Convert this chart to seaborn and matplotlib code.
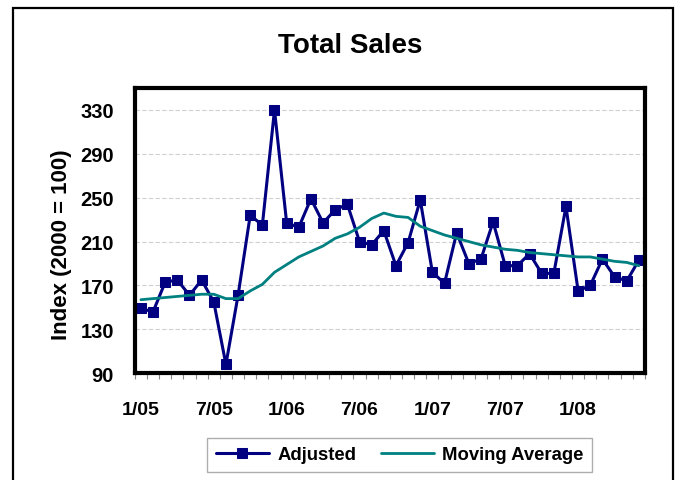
import numpy as np
import pandas as pd
import seaborn as sns
import matplotlib.pyplot as plt
from matplotlib.patches import Rectangle
from matplotlib.ticker import FixedLocator

# %% data (monthly, 1/05 - 6/08)
month_idx = list(range(42))
adjusted = [149, 146, 173, 175, 161, 175, 155, 98, 161, 234,
            225, 330, 227, 223, 249, 227, 239, 244, 210, 207,
            220, 188, 209, 248, 182, 172, 218, 190, 194, 228,
            188, 188, 199, 181, 181, 242, 165, 170, 194, 178,
            174, 193]
moving_avg = [157, 158, 159, 160, 161, 162, 162, 158, 158, 165,
              171, 182, 189, 196, 201, 206, 213, 217, 223, 231,
              236, 233, 232, 224, 220, 216, 213, 210, 207, 205,
              203, 202, 200, 199, 198, 197, 196, 196, 194, 192,
              191, 188]
tick_pos = [0, 6, 12, 18, 24, 30, 36]
tick_labels = ["1/05", "7/05", "1/06", "7/06", "1/07", "7/07", "1/08"]
y_ticks = [90, 130, 170, 210, 250, 290, 330]

df = pd.DataFrame({"month": month_idx, "Adjusted": adjusted,
                   "Moving Average": moving_avg})

# %% style
sns.set_style("white")
plt.rcParams["font.family"] = ["Liberation Sans", "DejaVu Sans"]
plt.rcParams["font.weight"] = "bold"
plt.rcParams["text.color"] = "black"
plt.rcParams["xtick.color"] = "black"
plt.rcParams["ytick.color"] = "black"
plt.rcParams["axes.labelcolor"] = "black"

fig = plt.figure(figsize=(6.81, 4.81), dpi=100)
ax = fig.add_axes([0.198, 0.222, 0.749, 0.593])

sns.lineplot(data=df, x="month", y="Adjusted", color="#000080", lw=2.2,
             marker="s", markersize=7, markeredgecolor="#000080",
             label="Adjusted", ax=ax)
sns.lineplot(data=df, x="month", y="Moving Average", color="#008080",
             lw=2, label="Moving Average", ax=ax)

ax.set_xlim(-0.5, 41.5)
ax.set_ylim(90, 350)
ax.set_yticks(y_ticks)
ax.set_yticklabels([str(v) for v in y_ticks], fontsize=14.5, fontweight="bold")
ax.set_xticks(tick_pos)
ax.set_xticklabels(tick_labels, fontsize=14, fontweight="bold")
ax.xaxis.set_minor_locator(FixedLocator(np.arange(-0.5, 42, 1)))
ax.tick_params(axis="x", which="major", length=0, pad=20)
ax.tick_params(axis="x", which="minor", length=4, width=0.8, color="#888888",
               direction="out", bottom=True)
ax.tick_params(axis="y", length=0, pad=15)
ax.set_xlabel("")
ax.set_ylabel("Index (2000 = 100)", fontsize=16, fontweight="bold")
ax.yaxis.set_label_coords(-0.124, 0.455)
ax.yaxis.grid(True, linestyle=(0, (4, 2)), color="#d0d0d0", lw=0.8)
ax.set_axisbelow(True)
for s in ax.spines.values():
    s.set_visible(True)
    s.set_color("black")
    s.set_linewidth(3)

fig.text(0.514, 0.904, "Total Sales", ha="center", va="center",
         fontsize=20, fontweight="bold")

ax.get_legend().remove()
h, l = ax.get_legend_handles_labels()
leg = fig.legend(h, l, loc="center", bbox_to_anchor=(0.587, 0.052), ncol=2,
                 frameon=True, fancybox=False, edgecolor="#999999",
                 prop={"size": 13.3, "weight": "bold"}, handlelength=2.9,
                 columnspacing=1.3, borderpad=0.45, handletextpad=0.45,
                 numpoints=1)
leg.get_frame().set_linewidth(1)

fig.patches.append(Rectangle((13 / 681, -0.1), 660 / 681, 1.1 - 9 / 481,
                             transform=fig.transFigure, fill=False,
                             ec="black", lw=1.6))

fig.savefig("out.png", dpi=100)
